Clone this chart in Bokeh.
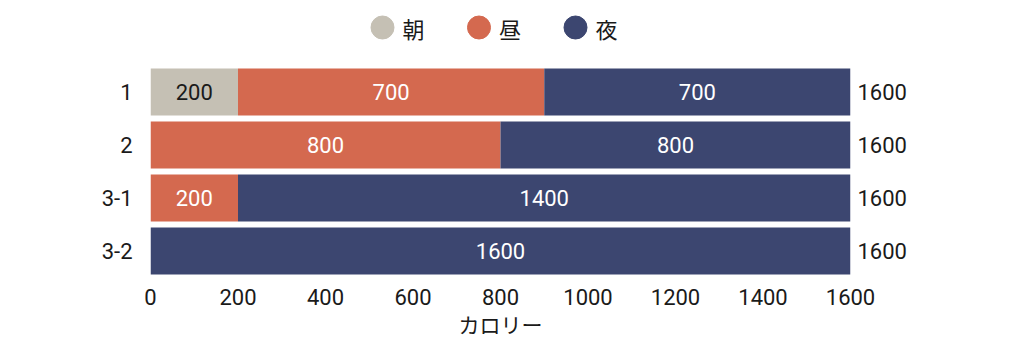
from bokeh.plotting import figure
from bokeh.models import ColumnDataSource, FactorRange, Range1d, CategoricalAxis, FixedTicker, CustomJSTickFormatter
from bokeh.layouts import column
from bokeh.core.properties import value
from bokeh.embed import file_html
from bokeh.resources import INLINE

categories = ["1", "2", "3-1", "3-2"]
series = ["朝", "昼", "夜"]
asa = [200, 0, 0, 0]
hiru = [700, 800, 200, 0]
yoru = [700, 800, 1400, 1600]
colors = ["#c5c0b4", "#d4694f", "#3c4670"]
text_colors = ["#1a1a1a", "#ffffff", "#ffffff"]
x_ticks = [0, 200, 400, 600, 800, 1000, 1200, 1400, 1600]

NUM_FONT = "Roboto, sans-serif"
CJK_FONT = "'Noto Sans CJK JP', sans-serif"
NUM_SIZE = "22px"
INK = "#1a1a1a"

values = [asa, hiru, yoru]
totals = [sum(v) for v in zip(*values)]

# ---------- legend figure (frame aligned with main frame: 150..850 px) ----------
leg = figure(width=1024, height=56, x_range=Range1d(150, 850), y_range=Range1d(0, 56),
             output_backend="svg", toolbar_location=None, min_border=0,
             x_axis_location=None, y_axis_location=None)
leg.grid.visible = False
leg.outline_line_color = None
leg_x0, leg_dx, leg_y = 382, 96.5, 29
lx = [leg_x0 + i * leg_dx for i in range(len(series))]
leg.scatter(x=lx, y=[leg_y] * 3, size=23, color=colors, marker="circle")
leg.text(x=[v + 20 for v in lx], y=[leg_y] * 3, text=series, text_align="left",
         text_baseline="middle", text_font=value(CJK_FONT), text_font_size="22px",
         text_color=INK)

# ---------- main figure ----------
p = figure(width=1024, height=285, y_range=FactorRange(factors=categories[::-1]),
           x_range=Range1d(0, 1600), output_backend="svg", toolbar_location=None,
           min_border_left=150, min_border_right=174, min_border_top=9, min_border_bottom=64)
p.outline_line_color = None
p.grid.visible = False

src = ColumnDataSource(dict(cat=categories, **{s: v for s, v in zip(series, values)}))
p.hbar_stack(series, y="cat", height=0.89, color=colors, source=src, line_color=None)

# in-bar labels
lab_x, lab_y, lab_t, lab_c = [], [], [], []
for i, c in enumerate(categories):
    left = 0
    for j, v in enumerate(values):
        val = v[i]
        if val > 0:
            lab_x.append(left + val / 2)
            lab_y.append(c)
            lab_t.append(str(val))
            lab_c.append(text_colors[j])
        left += val
p.text(x=lab_x, y=lab_y, text=lab_t, text_color=lab_c, text_align="center",
       text_baseline="middle", text_font=value(NUM_FONT), text_font_size=NUM_SIZE)

# axes
xa = p.xaxis[0]
xa.ticker = FixedTicker(ticks=x_ticks)
xa.axis_line_color = None
xa.major_tick_line_color = None
xa.minor_tick_line_color = None
xa.major_label_text_font = NUM_FONT
xa.major_label_text_font_size = NUM_SIZE
xa.major_label_text_color = INK
xa.major_label_standoff = 5
xa.axis_label = "カロリー"
xa.axis_label_text_font = CJK_FONT
xa.axis_label_text_font_size = "21px"
xa.axis_label_text_font_style = "normal"
xa.axis_label_text_color = INK
xa.axis_label_standoff = 1

ya = p.yaxis[0]
ya.axis_line_color = None
ya.major_tick_line_color = None
ya.major_label_text_font = NUM_FONT
ya.major_label_text_font_size = NUM_SIZE
ya.major_label_text_color = INK
ya.major_label_standoff = 12

# right axis with totals
ra = CategoricalAxis(formatter=CustomJSTickFormatter(
    args=dict(cats=categories, tots=[str(t) for t in totals]),
    code="return tots[cats.indexOf(tick)];"))
ra.axis_line_color = None
ra.major_tick_line_color = None
ra.major_label_text_font = NUM_FONT
ra.major_label_text_font_size = NUM_SIZE
ra.major_label_text_color = INK
ra.major_label_standoff = 1
p.add_layout(ra, "right")

layout = column(leg, p, spacing=0)
open("out.html", "w").write(file_html(layout, INLINE))
